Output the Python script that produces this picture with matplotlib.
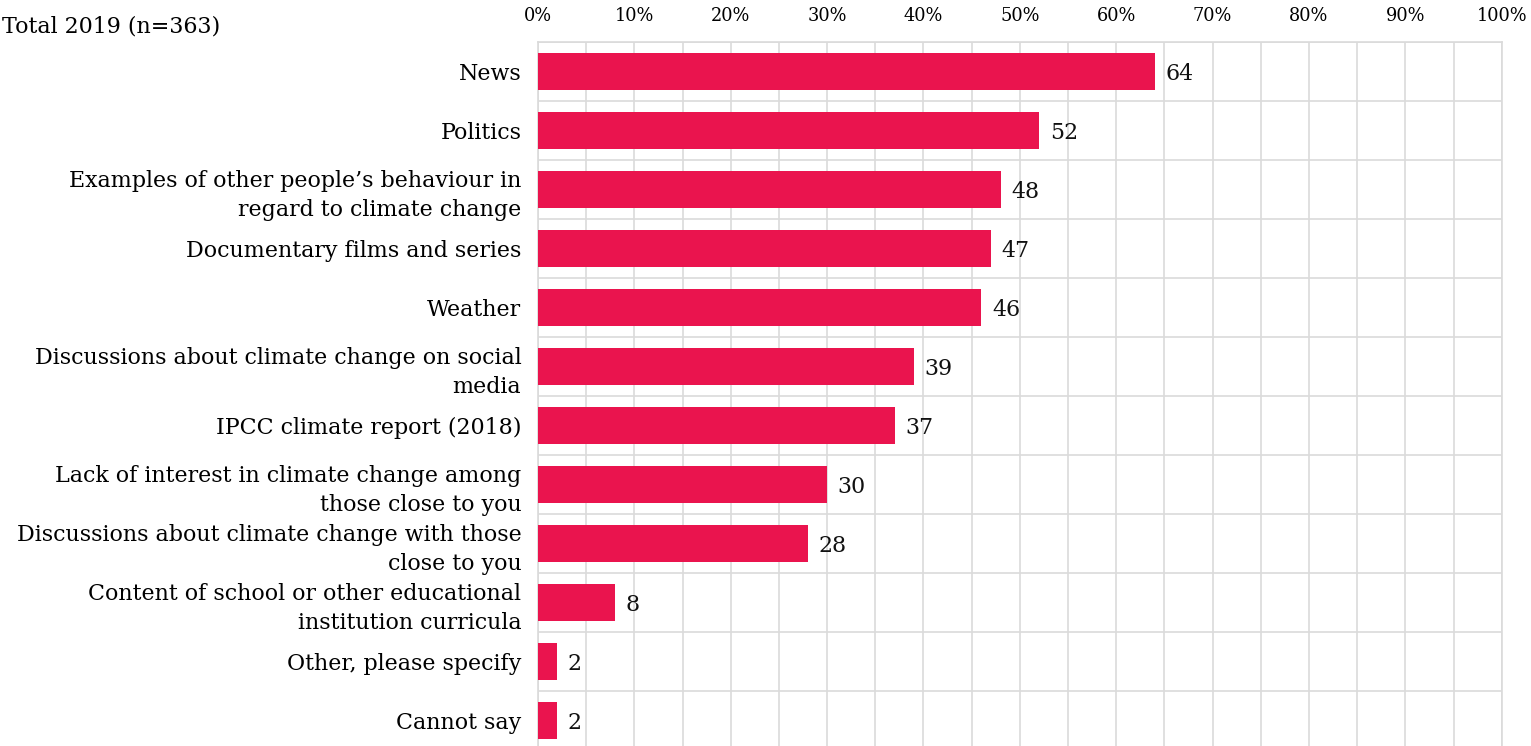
import matplotlib
matplotlib.use("Agg")
from matplotlib import pyplot as plt
from matplotlib.ticker import MultipleLocator, FixedLocator
import numpy as np

plt.rcParams["font.family"] = ["DejaVu Serif"]

categories = [
    "News",
    "Politics",
    "Examples of other people’s behaviour in\nregard to climate change",
    "Documentary films and series",
    "Weather",
    "Discussions about climate change on social\nmedia",
    "IPCC climate report (2018)",
    "Lack of interest in climate change among\nthose close to you",
    "Discussions about climate change with those\nclose to you",
    "Content of school or other educational\ninstitution curricula",
    "Other, please specify",
    "Cannot say",
]
values = [64, 52, 48, 47, 46, 39, 37, 30, 28, 8, 2, 2]
tick_values = [0, 10, 20, 30, 40, 50, 60, 70, 80, 90, 100]
title = "Total 2019 (n=363)"

bar_color = "#EA144E"
grid_color = "#DADADA"
label_size = 15.9


def main():
    fig = plt.figure(figsize=(15.31, 7.46), dpi=100)
    ax = fig.add_axes([0.3514, -0.0054, 0.6295, 0.9491])

    y = np.arange(len(categories))
    ax.barh(y, values, height=0.63, color=bar_color, zorder=3)

    for yi, v in zip(y, values):
        ax.text(v + 1.1, yi + 0.05, f"{v}", va="center", ha="left",
                fontsize=label_size, color="#111111")

    ax.set_xlim(0, 100)
    ax.set_ylim(len(categories) - 0.5, -0.5)

    ax.xaxis.tick_top()
    ax.xaxis.set_major_locator(FixedLocator(tick_values))
    ax.xaxis.set_minor_locator(MultipleLocator(5))
    ax.set_xticklabels([f"{t}%" for t in tick_values], fontsize=12.8)
    ax.tick_params(axis="x", which="both", length=0, pad=12)

    ax.set_yticks(y)
    ax.set_yticklabels(categories, fontsize=label_size, linespacing=1.4)
    ax.yaxis.set_minor_locator(FixedLocator(np.arange(-0.5, len(categories), 1)))
    ax.tick_params(axis="y", which="both", length=0, pad=12)

    # vertical lines every 5%, horizontal lines only between rows
    ax.grid(True, axis="x", which="both", color=grid_color, linewidth=1.2, zorder=0)
    ax.grid(True, axis="y", which="minor", color=grid_color, linewidth=1.2, zorder=0)
    ax.grid(False, axis="y", which="major")
    for s in ax.spines.values():
        s.set_color(grid_color)
        s.set_linewidth(1.2)

    fig.text(0.001, 0.965, title, fontsize=label_size, ha="left", va="center")

    fig.savefig("out.png", dpi=100)
    plt.close()


if __name__ == "__main__":
    main()
